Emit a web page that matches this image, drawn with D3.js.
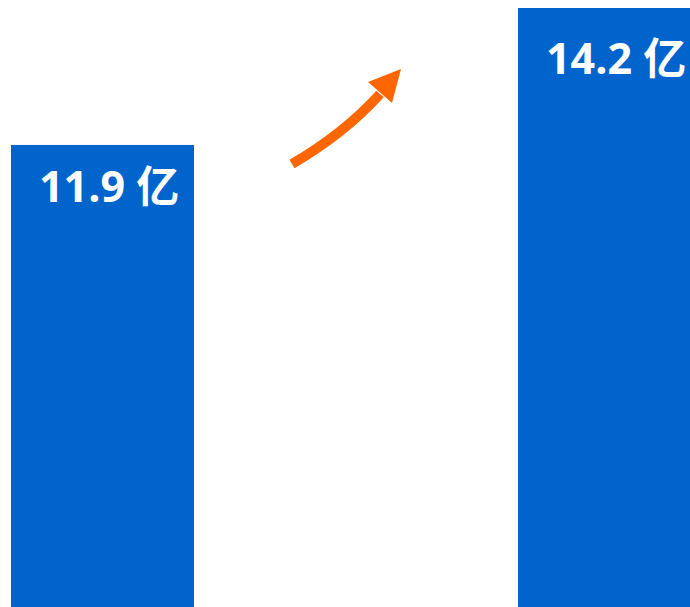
<!DOCTYPE html>
<html>
<head>
<meta charset="utf-8">
<script src="https://cdn.jsdelivr.net/npm/d3@7/dist/d3.min.js"></script>
<style>
  html, body { margin: 0; padding: 0; background: #ffffff; }
  svg { display: block; }
</style>
</head>
<body>
<svg id="chart" width="690" height="607"></svg>
<script>
// Data
const categories = ["前期", "后期"];
const values = [11.9, 14.2];
const labels = ["11.9 亿", "14.2 亿"];

const W = 690, H = 607;
const svg = d3.select("#chart");

const x = d3.scaleBand()
  .domain(categories)
  .range([11, 701])
  .paddingInner(0.639)
  .paddingOuter(0);

const y = d3.scaleLinear()
  .domain([4.14, 14.2])
  .range([H, 8]);

svg.selectAll("rect.bar")
  .data(values)
  .join("rect")
  .attr("class", "bar")
  .attr("x", (d, i) => x(categories[i]))
  .attr("y", d => y(d))
  .attr("width", x.bandwidth())
  .attr("height", d => H - y(d))
  .attr("fill", "#0064CC");

const labelDy = [57, 65.5];
svg.selectAll("text.lbl")
  .data(values)
  .join("text")
  .attr("class", "lbl")
  .attr("x", (d, i) => x(categories[i]) + 28)
  .attr("y", (d, i) => y(d) + labelDy[i])
  .attr("fill", "#ffffff")
  .attr("font-family", "'Open Sans', 'Noto Sans CJK SC', sans-serif")
  .attr("font-weight", "bold")
  .attr("font-size", 43)
  .text((d, i) => labels[i]);

// Arrow (decorative growth indicator)
const path = d3.path();
path.moveTo(292, 164);
path.quadraticCurveTo(345, 133, 380, 94);
svg.append("path")
  .attr("d", path.toString())
  .attr("fill", "none")
  .attr("stroke", "#FF6600")
  .attr("stroke-width", 10);

svg.append("path")
  .attr("d", "M401,69 L368,82 L392,103 Z")
  .attr("fill", "#FF6600");
</script>
</body>
</html>
